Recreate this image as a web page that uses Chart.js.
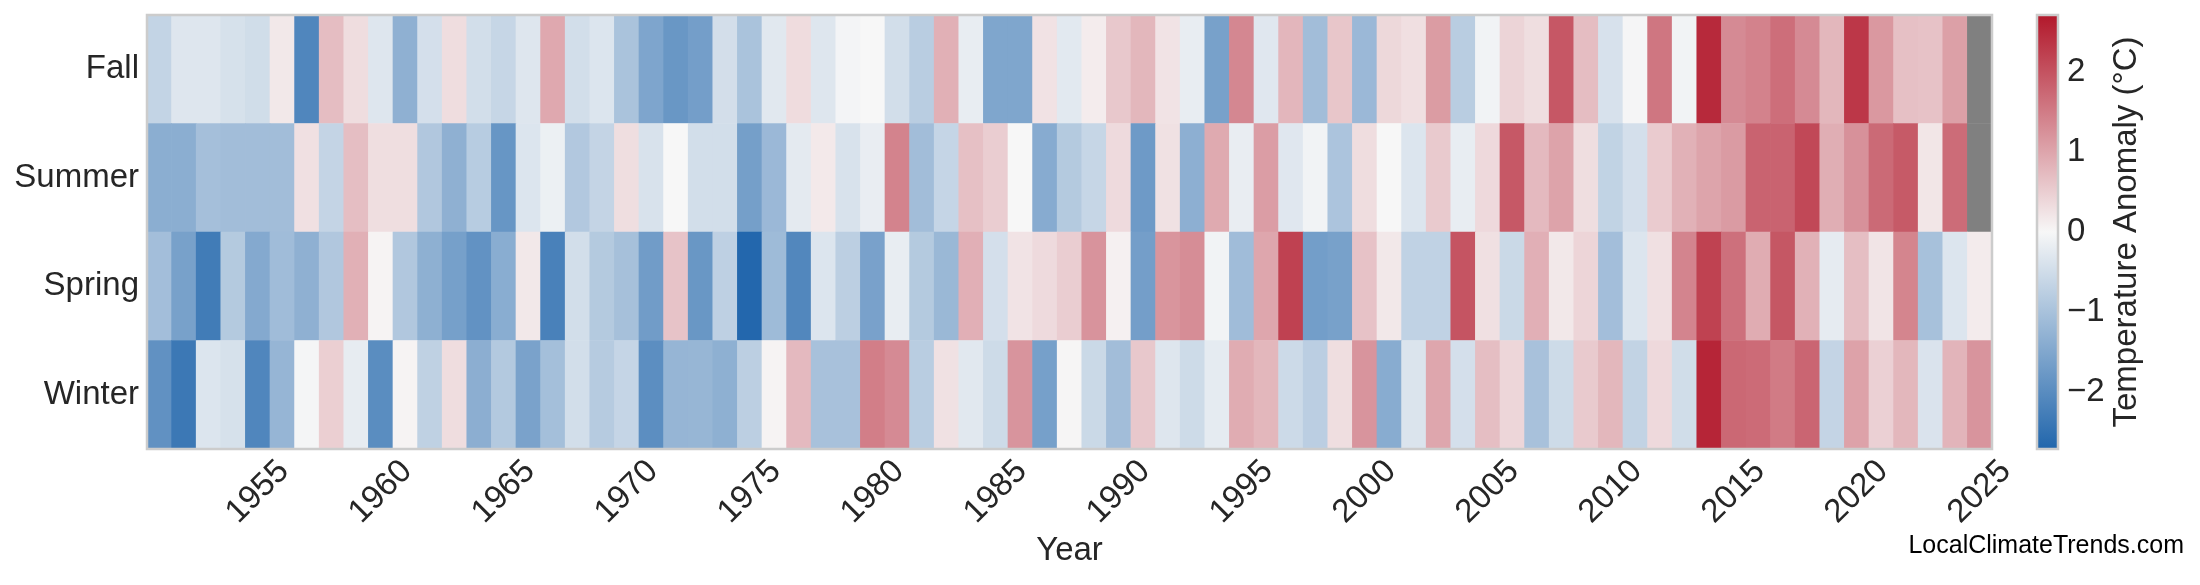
<!DOCTYPE html>
<html>
<head>
<meta charset="utf-8">
<title>Seasonal temperature anomaly</title>
<script src="https://cdn.jsdelivr.net/npm/chart.js@4.4.1/dist/chart.umd.min.js"></script>
<style>
  html, body { margin: 0; padding: 0; background: #fff; }
  #wrap { position: relative; width: 2200px; height: 585px; }
  #heat { position: absolute; left: 0; top: 0; }
  #cbar { position: absolute; left: 2010px; top: 0; }
</style>
</head>
<body>
<div id="wrap">
  <canvas id="heat" width="2200" height="585"></canvas>
  <canvas id="cbar" width="190" height="585"></canvas>
</div>
<script>
// categories
const years = Array.from({ length: 75 }, (_, i) => 1951 + i); // 1951..2025
const seasons = ["Winter", "Spring", "Summer", "Fall"];       // bottom -> top
const xTickYears = [1955, 1960, 1965, 1970, 1975, 1980, 1985, 1990, 1995, 2000, 2005, 2010, 2015, 2020, 2025];
const cbarTicks = [-2, -1, 0, 1, 2];

// anomaly (°C), one value per year 1951..2025, null = no data
const winter = [
  -1.90, -2.37, -0.34, -0.42, -2.11, -1.23, -0.04, 0.49, -0.20, -1.99,
  0.05, -0.71, 0.32, -1.36, -0.86, -1.58, -1.05, -0.47, -0.82, -0.63,
  -1.96, -1.23, -1.22, -1.33, -0.75, 0.05, 0.75, -1.00, -1.00, 1.47,
  1.32, -0.79, 0.27, -0.28, -0.53, 1.20, -1.63, 0.02, -0.57, -1.08,
  0.57, -0.32, -0.53, -0.23, 0.91, 0.78, -0.54, -0.76, 0.30, 1.20,
  -1.41, -0.36, 0.98, -0.44, 0.69, 0.40, -1.00, -0.53, 0.55, 0.78,
  -0.67, 0.36, -0.49, 2.55, 1.74, 1.70, 1.51, 1.77, -0.65, 1.03,
  0.47, 0.78, -0.37, 0.81, 1.20
];
const spring = [
  -1.06, -1.61, -2.30, -0.85, -1.46, -1.10, -1.32, -0.89, 0.86, 0.05,
  -0.89, -1.33, -1.63, -1.89, -1.39, 0.18, -2.20, -0.47, -0.85, -1.03,
  -1.70, 0.63, -1.80, -0.72, -2.69, -1.13, -2.09, -0.34, -0.75, -1.60,
  -0.19, -0.85, -1.18, 0.87, -0.44, 0.24, 0.35, 0.51, 1.21, 0.08,
  -1.66, 1.19, 1.29, -0.08, -1.10, 0.98, 2.21, -1.67, -1.61, 0.64,
  0.18, -0.70, -0.70, 1.98, 0.28, -0.57, 0.87, 0.18, 0.41, -1.06,
  -0.34, 0.28, 1.40, 2.20, 1.64, 0.91, 1.95, 0.85, -0.22, 0.69,
  0.23, 1.39, -1.01, -0.34, 0.15
];
const summer = [
  -1.37, -1.37, -1.04, -1.08, -1.08, -1.08, 0.28, -0.65, 0.69, 0.30,
  0.30, -0.89, -1.32, -0.81, -1.82, -0.34, -0.14, -0.87, -0.65, 0.30,
  -0.39, 0.00, -0.47, -0.47, -1.65, -1.17, -0.24, 0.17, -0.39, -0.18,
  1.41, -1.08, -0.63, 0.67, 0.51, 0.00, -1.42, -0.85, -0.62, 0.35,
  -1.74, 0.27, -1.34, 0.94, -0.18, 1.09, -0.29, -0.08, -0.95, 0.32,
  0.00, -0.34, 0.55, -0.19, 0.36, 1.93, 0.75, 1.02, 0.30, -0.68,
  -0.44, 0.53, 0.85, 1.01, 1.12, 1.80, 1.80, 2.13, 0.89, 1.24,
  1.71, 1.91, 0.21, 1.69, null
];
const fall = [
  -0.66, -0.32, -0.32, -0.42, -0.49, 0.18, -2.11, 0.70, 0.32, -0.32,
  -1.32, -0.44, 0.32, -0.47, -0.62, -0.32, 0.96, -0.47, -0.34, -0.98,
  -1.53, -1.80, -1.66, -0.46, -0.98, -0.28, 0.33, -0.32, -0.05, 0.00,
  -0.47, -0.79, 0.86, -0.19, -1.52, -1.52, 0.25, -0.27, 0.13, 0.57,
  0.78, 0.24, -0.19, -1.61, 1.36, -0.29, 0.79, -1.08, 0.60, -1.17,
  0.38, 0.29, 1.11, -0.79, -0.07, 0.43, 0.30, 1.94, 0.70, -0.41,
  -0.03, 1.57, -0.08, 2.50, 1.32, 1.42, 1.66, 1.32, 0.78, 2.33,
  1.15, 0.67, 0.64, 1.06, null
];
const seasonValues = [winter, spring, summer, fall];

const vmin = -2.71;
const vmax = 2.71;

const FONT = "'Liberation Sans', Arial, sans-serif";
const SIZE = 33;
const TEXT = "#262626";
const BLUE = [33, 102, 172];
const MID = [247, 247, 247];
const RED = [178, 24, 43];
const NODATA = "#808080";

Chart.defaults.font.family = FONT;
Chart.defaults.color = TEXT;

function anomalyColor(v) {
    if (v === null) return NODATA;
    let t = Math.max(-1, Math.min(1, v / vmax));
    const end = t < 0 ? BLUE : RED;
    t = Math.abs(t);
    const c = MID.map((m, i) => Math.round(m + (end[i] - m) * t));
    return `rgb(${c.join(",")})`;
}

// grey box round the plot area
const frame = {
    id: "frame",
    afterDatasetsDraw(chart) {
        const a = chart.chartArea;
        const ctx = chart.ctx;
        ctx.save();
        ctx.strokeStyle = "#cccccc";
        ctx.lineWidth = 2.5;
        ctx.strokeRect(a.left, a.top, a.right - a.left, a.bottom - a.top);
        ctx.restore();
    }
};

const watermark = {
    id: "watermark",
    afterDraw(chart) {
        const ctx = chart.ctx;
        ctx.save();
        ctx.font = `25px ${FONT}`;
        ctx.fillStyle = "#000";
        ctx.textAlign = "right";
        ctx.textBaseline = "middle";
        ctx.fillText("LocalClimateTrends.com", 2184, 546);
        ctx.restore();
    }
};

const cbarTitle = {
    id: "cbarTitle",
    afterDraw(chart) {
        const ctx = chart.ctx;
        const y = chart.scales.y;
        ctx.save();
        ctx.translate(117, (y.top + y.bottom) / 2);
        ctx.rotate(-Math.PI / 2);
        ctx.font = `${SIZE}px ${FONT}`;
        ctx.fillStyle = TEXT;
        ctx.textAlign = "center";
        ctx.textBaseline = "middle";
        ctx.fillText("Temperature Anomaly (°C)", 0, 0);
        ctx.restore();
    }
};

// labels sit inside the axis range, so no extra room above/below is needed
function fixWidth(w) {
    return s => {
        s.width = w;
        s.paddingTop = 0;
        s.paddingBottom = 0;
    };
}

// heatmap: one floating bar per season and year
new Chart(document.getElementById("heat"), {
    type: "bar",
    data: {
        labels: years,
        datasets: seasons.map((name, k) => ({
            label: name,
            data: years.map(() => [k, k + 1]),
            backgroundColor: seasonValues[k].map(anomalyColor),
            borderWidth: 0,
            barPercentage: 1,
            categoryPercentage: 1,
            grouped: false
        }))
    },
    options: {
        responsive: false,
        animation: false,
        layout: { padding: { top: 15, right: 208, bottom: 0, left: 0 } },
        plugins: {
            legend: { display: false },
            tooltip: { enabled: false }
        },
        scales: {
            x: {
                type: "category",
                grid: { display: false, drawTicks: false },
                border: { display: false },
                ticks: {
                    autoSkip: false,
                    minRotation: 45,
                    maxRotation: 45,
                    labelOffset: 26,
                    padding: 3,
                    color: TEXT,
                    font: { size: SIZE },
                    callback: (v, i) => xTickYears.includes(years[i]) ? String(years[i]) : ""
                },
                title: {
                    display: true,
                    text: "Year",
                    color: TEXT,
                    font: { size: SIZE },
                    padding: { top: 0, bottom: 14 }
                },
                afterFit: s => { s.height = 136; }
            },
            y: {
                type: "linear",
                min: 0,
                max: seasons.length,
                grid: { display: false, drawTicks: false },
                border: { display: false },
                afterBuildTicks: s => { s.ticks = seasons.map((_, k) => ({ value: k + 0.5 })); },
                ticks: {
                    padding: 8,
                    color: TEXT,
                    font: { size: SIZE },
                    callback: v => seasons[Math.floor(v)]
                },
                afterFit: fixWidth(147)
            }
        }
    },
    plugins: [frame, watermark]
});

// colour bar
new Chart(document.getElementById("cbar"), {
    type: "bar",
    data: {
        labels: [""],
        datasets: [{
            data: [[vmin, vmax]],
            borderWidth: 0,
            barPercentage: 1,
            categoryPercentage: 1,
            backgroundColor: c => {
                const chart = c.chart;
                if (!chart.chartArea) return "#f7f7f7";
                const y = chart.scales.y;
                const g = chart.ctx.createLinearGradient(0, y.getPixelForValue(vmin), 0, y.getPixelForValue(vmax));
                g.addColorStop(0, anomalyColor(vmin));
                g.addColorStop(0.5, anomalyColor(0));
                g.addColorStop(1, anomalyColor(vmax));
                return g;
            }
        }]
    },
    options: {
        responsive: false,
        animation: false,
        layout: { padding: { top: 15, right: 0, bottom: 136, left: 27 } },
        plugins: {
            legend: { display: false },
            tooltip: { enabled: false }
        },
        scales: {
            x: { display: false },
            y: {
                position: "right",
                min: vmin,
                max: vmax,
                grid: { display: false, drawTicks: false },
                border: { display: false },
                afterBuildTicks: s => { s.ticks = cbarTicks.map(v => ({ value: v })); },
                ticks: {
                    padding: 9,
                    color: TEXT,
                    font: { size: SIZE },
                    callback: v => v < 0 ? "\u2212" + Math.abs(v) : String(v)
                },
                afterFit: fixWidth(142)
            }
        }
    },
    plugins: [frame, cbarTitle]
});
</script>
</body>
</html>
